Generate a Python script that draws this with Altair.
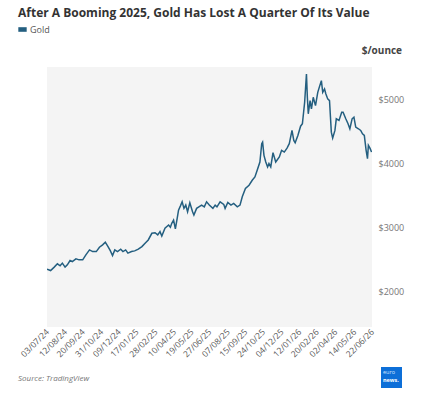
import altair as alt
import pandas as pd

dates = [
    "2024-07-03", "2024-07-11", "2024-07-19", "2024-07-26", "2024-08-01", "2024-08-06",
    "2024-08-12", "2024-08-17", "2024-08-23", "2024-08-28", "2024-09-05", "2024-09-12",
    "2024-09-20", "2024-09-27", "2024-10-05", "2024-10-12", "2024-10-20", "2024-10-27",
    "2024-11-03", "2024-11-09", "2024-11-15", "2024-11-20", "2024-11-25", "2024-11-30",
    "2024-12-06", "2024-12-13", "2024-12-18", "2024-12-24", "2024-12-29", "2025-01-06",
    "2025-01-13", "2025-01-21", "2025-01-29", "2025-02-05", "2025-02-12", "2025-02-20",
    "2025-02-27", "2025-03-05", "2025-03-10", "2025-03-14", "2025-03-21", "2025-03-29",
    "2025-04-02", "2025-04-05", "2025-04-09", "2025-04-13", "2025-04-17", "2025-04-20",
    "2025-04-24", "2025-04-28", "2025-05-02", "2025-05-06", "2025-05-10", "2025-05-15",
    "2025-05-21", "2025-05-24", "2025-05-30", "2025-06-04", "2025-06-10", "2025-06-16",
    "2025-06-21", "2025-06-27", "2025-07-05", "2025-07-10", "2025-07-14", "2025-07-21",
    "2025-07-29", "2025-08-01", "2025-08-07", "2025-08-14", "2025-08-20", "2025-08-28",
    "2025-09-03", "2025-09-08", "2025-09-15", "2025-09-23", "2025-09-30", "2025-10-06",
    "2025-10-11", "2025-10-17", "2025-10-21", "2025-10-23", "2025-10-26", "2025-10-30",
    "2025-11-03", "2025-11-06", "2025-11-10", "2025-11-15", "2025-11-21", "2025-11-29",
    "2025-12-04", "2025-12-10", "2025-12-16", "2025-12-21", "2025-12-27", "2025-12-31",
    "2026-01-03", "2026-01-09", "2026-01-15", "2026-01-19", "2026-01-24", "2026-01-28",
    "2026-01-30", "2026-02-01", "2026-02-05", "2026-02-08", "2026-02-12", "2026-02-17",
    "2026-02-22", "2026-02-26", "2026-03-02", "2026-03-05", "2026-03-09", "2026-03-12",
    "2026-03-16", "2026-03-20", "2026-03-24", "2026-03-27", "2026-04-01", "2026-04-04",
    "2026-04-10", "2026-04-16", "2026-04-19", "2026-04-25", "2026-04-30", "2026-05-04",
    "2026-05-09", "2026-05-13", "2026-05-17", "2026-05-23", "2026-05-28", "2026-06-01",
    "2026-06-05", "2026-06-09", "2026-06-12", "2026-06-14", "2026-06-18", "2026-06-21",
]
prices = [
    2352, 2330, 2383, 2434, 2403, 2445,
    2383, 2419, 2485, 2470, 2512, 2496,
    2496, 2574, 2651, 2625, 2625, 2693,
    2729, 2771, 2702, 2640, 2563, 2651,
    2625, 2662, 2625, 2651, 2600, 2625,
    2636, 2662, 2702, 2755, 2806, 2910,
    2919, 2884, 2935, 2868, 2988, 3039,
    3003, 3065, 3116, 2977, 3143, 3271,
    3333, 3400, 3298, 3349, 3245, 3384,
    3245, 3194, 3298, 3322, 3349, 3322,
    3400, 3349, 3298, 3349, 3322, 3400,
    3360, 3298, 3391, 3349, 3375, 3322,
    3349, 3478, 3608, 3659, 3736, 3788,
    3891, 4020, 4305, 4330, 4124, 4020,
    3943, 3995, 3943, 4166, 4020, 4098,
    4202, 4175, 4237, 4305, 4512, 4357,
    4321, 4434, 4578, 4616, 4950, 5391,
    5028, 4771, 4977, 4848, 5028, 4899,
    5105, 5198, 5287, 5105, 5158, 5081,
    5003, 4977, 4485, 4392, 4512, 4693,
    4667, 4795, 4795, 4693, 4616, 4538,
    4693, 4718, 4563, 4538, 4512, 4460,
    4434, 4202, 4073, 4279, 4228, 4175,
]
tick_dates = [
    "2024-07-03", "2024-08-12", "2024-09-20", "2024-10-31", "2024-12-09", "2025-01-17",
    "2025-02-28", "2025-04-10", "2025-05-19", "2025-06-27", "2025-08-07", "2025-09-15",
    "2025-10-24", "2025-12-04", "2026-01-12", "2026-02-20", "2026-04-02", "2026-05-14",
    "2026-06-22",
]
y_ticks = [2000, 3000, 4000, 5000]
series_name = "Gold"

FONT = "Open Sans"
LINE_COLOR = "#245f80"

df = pd.DataFrame({"date": dates, "price": prices, "series": series_name})


def ms(s):
    return int(pd.Timestamp(s, tz="UTC").timestamp() * 1000)


x_domain = [ms("2024-07-03"), ms("2026-06-22")]
x_values = [ms(d) for d in tick_dates]

line = alt.Chart(df).mark_line(strokeWidth=1.5, clip=True).encode(
    x=alt.X(
        "date:T",
        scale=alt.Scale(type="utc", domain=x_domain),
        axis=alt.Axis(
            values=x_values,
            labelExpr="utcFormat(datum.value, '%d/%m/%y')",
            labelAngle=-45,
            labelAlign="right",
            labelBaseline="middle",
            labelColor="#555555",
            labelFontSize=8.5,
            labelFont=FONT,
            labelPadding=3,
            labelOverlap=False,
            domain=False,
            ticks=False,
            grid=False,
            title=None,
        ),
    ),
    y=alt.Y(
        "price:Q",
        scale=alt.Scale(domain=[1450, 5500], nice=False, zero=False),
        axis=alt.Axis(
            orient="right",
            values=y_ticks,
            labelExpr="'$' + datum.value",
            labelColor="#777777",
            labelFontSize=9,
            labelFont=FONT,
            labelPadding=6,
            domain=False,
            ticks=False,
            grid=False,
            title=None,
        ),
    ),
    color=alt.Color(
        "series:N",
        scale=alt.Scale(range=[LINE_COLOR]),
        legend=alt.Legend(
            orient="none",
            legendX=-29,
            legendY=-42,
            title=None,
            symbolType="M-1,-0.55H1V0.55H-1Z",
            symbolSize=70,
            symbolStrokeWidth=0,
            symbolFillColor=LINE_COLOR,
            labelFont=FONT,
            labelFontSize=9,
            labelColor="#555555",
            labelOffset=3,
            padding=0,
        ),
    ),
)


def txt(text, x, y, size, weight="normal", style="normal", color="#333333", align="left"):
    return alt.Chart(pd.DataFrame({"t": [text]})).mark_text(
        font=FONT, fontSize=size, fontWeight=weight, fontStyle=style,
        color=color, align=align, baseline="alphabetic",
    ).encode(text="t:N", x=alt.value(x), y=alt.value(y))


title = txt("After A Booming 2025, Gold Has Lost A Quarter Of Its Value", -29, -50, 12, weight="bold", color="#333333")
unit = txt("$/ounce", 355, -13, 10, weight="bold", color="#444444", align="right")
source = txt("Source: TradingView", -29, 314, 8, style="italic", color="#777777")

logo = alt.Chart(pd.DataFrame({"a": [1]})).mark_rect(color="#0d6fd8").encode(
    x=alt.value(334), x2=alt.value(355), y=alt.value(300), y2=alt.value(321)
)
logo_t1 = alt.Chart(pd.DataFrame({"t": ["euro"]})).mark_text(
    font=FONT, fontSize=5.5, color="#cfe3ff", align="left", baseline="alphabetic"
).encode(text="t:N", x=alt.value(336), y=alt.value(307))
logo_t2 = alt.Chart(pd.DataFrame({"t": ["news."]})).mark_text(
    font=FONT, fontSize=5.5, fontWeight="bold", color="white", align="left", baseline="alphabetic"
).encode(text="t:N", x=alt.value(336), y=alt.value(315))

chart = alt.layer(line, title, unit, source, logo, logo_t1, logo_t2).properties(
    width=325,
    height=260,
    autosize=alt.AutoSizeParams(type="none"),
    padding={"left": 47, "top": 67, "right": 56, "bottom": 73},
    background="white",
).configure_view(fill="#f4f4f4", stroke=None)

chart.save("out.html", embed_options={"renderer": "svg", "actions": False})
